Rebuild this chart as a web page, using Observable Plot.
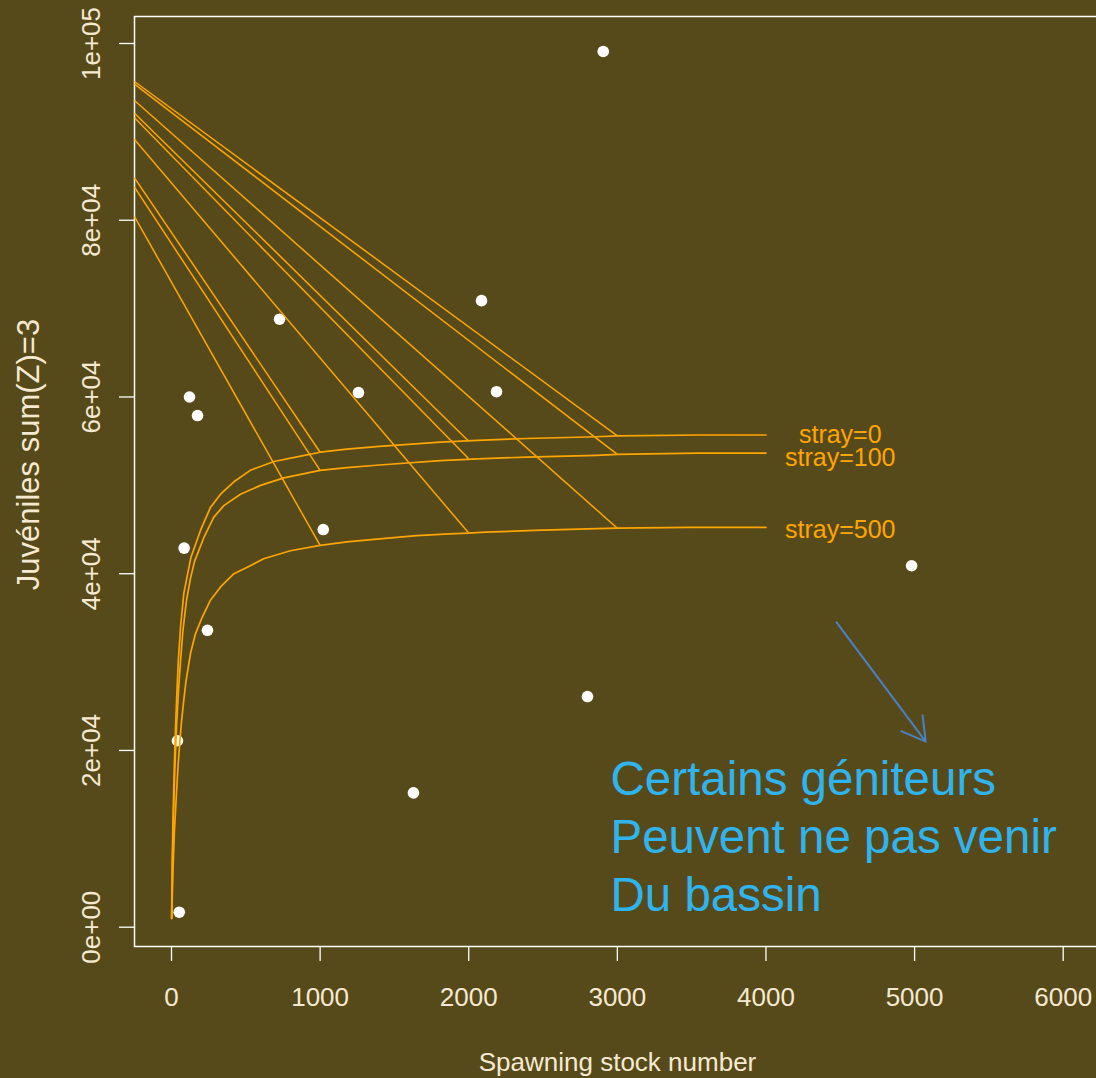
<!DOCTYPE html>
<html>
<head>
<meta charset="utf-8">
<script src="https://cdn.jsdelivr.net/npm/d3@7"></script>
<script src="https://cdn.jsdelivr.net/npm/@observablehq/plot@0.6"></script>
<style>
  html, body { margin: 0; padding: 0; background: #574a1a; overflow: hidden; }
  #chart { width: 1096px; height: 1078px; }
</style>
</head>
<body>
<div id="chart"></div>
<script>
// Observed spawning stock (x) and juveniles produced (y)
const spawners  = [2905, 2086, 727, 121, 175, 1258, 2187, 1021, 85, 242, 40, 2799, 1628, 4980, 52];
const juveniles = [99100, 70900, 68800, 60000, 57900, 60500, 60600, 45000, 42900, 33600, 21100, 26100, 15200, 40900, 1700];

// Stock-recruitment curves for three straying levels
const strayLevels = [0, 100, 500];
const strayLabels = ["stray=0", "stray=100", "stray=500"];
const curveS0 = [1, 5, 9, 17, 27, 36, 46, 61, 83, 130, 195, 262, 330, 420, 530, 690, 870, 1000, 1180, 1400, 1810, 2060, 2390, 2860, 3000, 3560, 4000];
const curveJ0 = [1000, 7500, 11300, 17000, 22600, 26400, 30200, 34000, 37800, 41800, 44900, 47500, 49000, 50400, 51700, 52700, 53300, 53750, 54100, 54400, 54900, 55100, 55300, 55500, 55600, 55700, 55700];
const curveS100 = [1, 7, 13, 22, 34, 47, 61, 77, 101, 128, 155, 218, 285, 352, 464, 599, 756, 1000, 1180, 1400, 1810, 2060, 2390, 2860, 3000, 3540, 4000];
const curveJ100 = [1000, 7500, 12600, 17700, 22800, 26800, 30200, 33600, 37000, 39500, 41400, 44100, 46400, 47700, 49000, 50000, 50850, 51700, 52000, 52300, 52800, 53000, 53200, 53400, 53500, 53650, 53650];
const curveS500 = [1, 11, 20, 34, 45, 56, 67, 80, 97, 128, 161, 207, 262, 330, 420, 530, 620, 800, 1000, 1180, 1400, 1650, 1870, 2000, 2110, 2440, 2860, 3000, 3490, 4000];
const curveJ500 = [1000, 7000, 11000, 15300, 18500, 21000, 23200, 25300, 27800, 31000, 33200, 35100, 37000, 38500, 40000, 40900, 41700, 42600, 43200, 43600, 43950, 44300, 44500, 44600, 44700, 44900, 45100, 45150, 45250, 45250];

// Straight lines running from the left edge down to each curve
const lineStartJ = [95700, 95400, 93550, 92100, 91600, 89150, 84800, 83750, 80400];
const lineEndS   = [3000, 3000, 3000, 2000, 2000, 2000, 1000, 1000, 1000];
const lineEndJ   = [55600, 53500, 45150, 55000, 53000, 44600, 53750, 51700, 43200];

// Curve label placement (data units)
const labelS = 4500;
const labelJ = [55750, 53150, 44950];

// Annotation
const noteText = "Certains géniteurs\nPeuvent ne pas venir\nDu bassin";
const noteS = 2954;
const noteJ = 19600;
const arrowFrom = [4475, 34500];
const arrowTo   = [5075, 21000];

// Axes
const xTicks = [0, 1000, 2000, 3000, 4000, 5000, 6000];
const xTickLabels = ["0", "1000", "2000", "3000", "4000", "5000", "6000"];
const yTicks = [0, 20000, 40000, 60000, 80000, 100000];
const yTickLabels = ["0e+00", "2e+04", "4e+04", "6e+04", "8e+04", "1e+05"];
const xTitle = "Spawning stock number";
const yTitle = "Juvéniles sum(Z)=3";

const xDomain = [-249, 6251];
const yDomain = [-2184, 103055];

const ink = "#f6e9d2";
const orange = "#ffa500";

const points = spawners.map((s, i) => ({s, j: juveniles[i]}));
const curveSets = [[curveS0, curveJ0], [curveS100, curveJ100], [curveS500, curveJ500]];
const curves = curveSets.flatMap(([S, J], k) => S.map((s, i) => ({stray: strayLevels[k], s, j: J[i]})));
const links = lineStartJ.map((j0, i) => ({j0, s1: lineEndS[i], j1: lineEndJ[i]}));
const labels = strayLabels.map((t, i) => ({t, j: labelJ[i]}));

const chart = Plot.plot({
  width: 1096,
  height: 1078,
  marginLeft: 134,
  marginRight: -4,
  marginTop: 16,
  marginBottom: 132,
  style: {
    background: "#574a1a",
    color: ink,
    fontFamily: "'Liberation Sans', Arial, Helvetica, sans-serif",
    fontSize: "26px"
  },
  x: {domain: xDomain},
  y: {domain: yDomain},
  marks: [
    Plot.frame({stroke: "white", strokeWidth: 1.5}),
    Plot.axisX(xTicks, {
      label: null, tickSize: 15, tickPadding: 26, stroke: "white", strokeWidth: 1.3, fill: ink,
      tickFormat: (d) => xTickLabels[xTicks.indexOf(d)]
    }),
    Plot.axisY(yTicks, {label: null, tickSize: 15, stroke: "white", strokeWidth: 1.3, tickFormat: () => ""}),
    Plot.text(yTicks, {
      y: (d) => d, text: (d, i) => yTickLabels[i], frameAnchor: "left", dx: -35,
      rotate: -90, textAnchor: "middle", lineAnchor: "bottom", fill: ink, fontSize: 26
    }),
    Plot.text([xTitle], {text: (d) => d, frameAnchor: "bottom", dy: 124, lineAnchor: "bottom", fill: ink, fontSize: 26}),
    Plot.text([yTitle], {
      text: (d) => d, frameAnchor: "left", dx: -96, dy: -27,
      rotate: -90, textAnchor: "middle", lineAnchor: "bottom", fill: ink, fontSize: 31
    }),
    Plot.dot(points, {x: "s", y: "j", r: 5.8, fill: "white", stroke: null}),
    Plot.line(curves, {x: "s", y: "j", z: "stray", stroke: orange, strokeWidth: 1.7, clip: true}),
    Plot.link(links, {x1: xDomain[0], y1: "j0", x2: "s1", y2: "j1", stroke: orange, strokeWidth: 1.5, clip: true}),
    Plot.text(labels, {x: labelS, y: "j", text: "t", fill: orange, fontSize: 25}),
    Plot.arrow([{x1: arrowFrom[0], y1: arrowFrom[1], x2: arrowTo[0], y2: arrowTo[1]}], {
      x1: "x1", y1: "y1", x2: "x2", y2: "y2", stroke: "#4a80c4", strokeWidth: 2, headLength: 20
    }),
    Plot.text([noteText], {
      x: noteS, y: noteJ, text: (d) => d, textAnchor: "start", lineAnchor: "top",
      lineHeight: 1.22, fill: "#30b4ee", fontSize: 47.5
    })
  ]
});

document.getElementById("chart").appendChild(chart);
</script>
</body>
</html>
